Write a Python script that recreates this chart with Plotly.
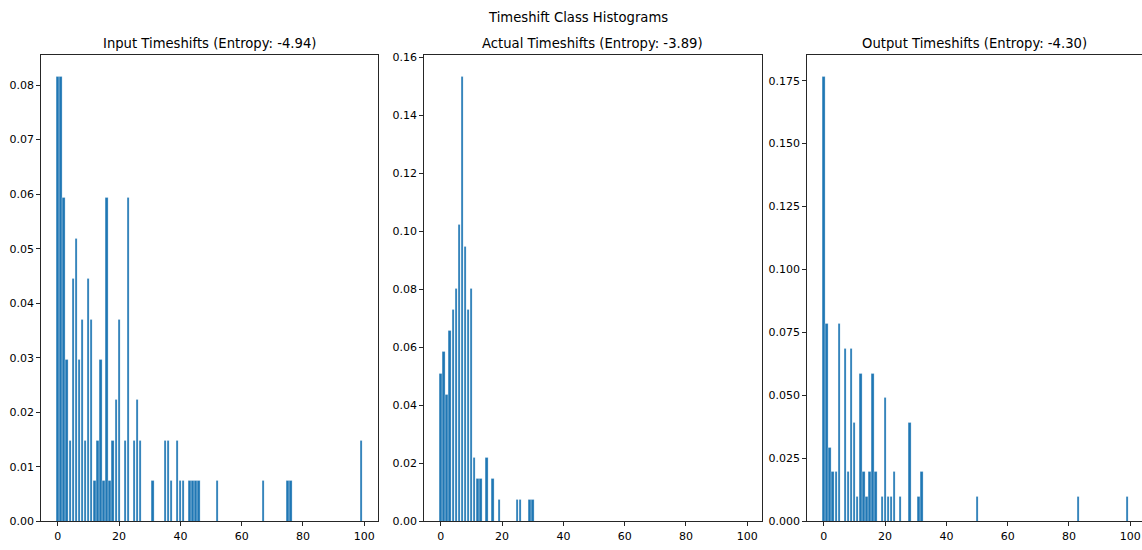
import plotly.graph_objects as go

# Timeshift classes observed in each set, with how many samples fell in each class
input_shifts = [0, 1, 2, 3, 4, 5, 6, 7, 8, 9, 10, 11, 12, 13, 14, 15, 16, 17, 18, 19, 20,
                22, 23, 25, 26, 27, 31, 35, 36, 37, 39, 40, 41, 43, 44, 45, 46, 52, 67, 75, 76, 99]
input_counts = [11, 11, 8, 4, 2, 6, 7, 4, 5, 2, 6, 5, 1, 2, 4, 1, 8, 1, 2, 3, 5,
                2, 8, 2, 3, 2, 1, 2, 2, 1, 2, 1, 1, 1, 1, 1, 1, 1, 1, 1, 1, 2]

actual_shifts = [0, 1, 2, 3, 4, 5, 6, 7, 8, 9, 10, 11, 12, 13, 15, 17, 19, 25, 26, 29, 30]
actual_counts = [7, 8, 6, 9, 10, 11, 14, 21, 13, 10, 11, 3, 2, 2, 3, 2, 1, 1, 1, 1, 1]

output_shifts = [0, 1, 2, 3, 4, 5, 7, 8, 9, 10, 11, 12, 13, 14, 15, 16, 17, 19, 20, 21,
                 22, 23, 25, 28, 31, 32, 50, 83, 99]
output_counts = [18, 8, 3, 2, 2, 8, 7, 2, 7, 4, 1, 6, 2, 1, 2, 6, 2, 1, 5, 1,
                 1, 2, 1, 4, 1, 2, 1, 1, 1]

titles = ["Input Timeshifts (Entropy: -4.94)",
          "Actual Timeshifts (Entropy: -3.89)",
          "Output Timeshifts (Entropy: -4.30)"]
suptitle = "Timeshift Class Histograms"

W, H = 1142, 550
FONT = "DejaVu Sans"
BLUE = "#1f77b4"
SPINE = "#262626"

# plot-area pixel boxes (left, right) and shared vertical extent
boxes = [(41.3, 377.7), (424.3, 761.7), (807.3, 1142.0)]
top_px, bottom_px = 52.7, 528.0
num_classes = 100
x_lo, x_hi = -0.4 - 0.05 * (num_classes - 1 + 0.8), num_classes - 1 + 0.4 + 0.05 * (num_classes - 1 + 0.8)
px_per_unit = (boxes[0][1] - boxes[0][0]) / (x_hi - x_lo)

series = [(input_shifts, input_counts), (actual_shifts, actual_counts), (output_shifts, output_counts)]
ytick_steps = [(0.01, ".2f", 8), (0.02, ".2f", 8), (0.025, ".3f", 7)]

fig = go.Figure()
annotations = []
for i, ((xs, cs), (step, fmt, n)) in enumerate(zip(series, ytick_steps)):
    total = sum(cs)
    probs = [c / total for c in cs]
    ax = "" if i == 0 else str(i + 1)
    fig.add_trace(go.Bar(x=xs, y=probs, width=[0.8] * len(xs),
                         marker=dict(color=BLUE, line=dict(width=0.4, color="rgba(255,255,255,0.7)")),
                         xaxis="x" + ax, yaxis="y" + ax, showlegend=False))
    left, right = boxes[i]
    xr_hi = x_lo + (right - left) / px_per_unit
    ymax = max(probs) * 1.05
    tickvals = [round(step * k, 4) for k in range(n + 1)]
    fig.layout["xaxis" + ax] = dict(
        domain=[left / W, right / W], range=[x_lo, xr_hi], anchor="y" + ax,
        tickvals=[0, 20, 40, 60, 80, 100], ticks="outside", ticklen=4, tickcolor=SPINE,
        showgrid=False, zeroline=False, showline=True, linecolor=SPINE, linewidth=1,
        mirror=True, tickfont=dict(family=FONT, size=11, color="black"))
    fig.layout["yaxis" + ax] = dict(
        domain=[1 - bottom_px / H, 1 - top_px / H], range=[0, ymax], anchor="x" + ax,
        tickvals=tickvals, tickformat=fmt, ticks="outside", ticklen=4, tickcolor=SPINE,
        showgrid=False, zeroline=False, showline=True, linecolor=SPINE, linewidth=1,
        mirror=(i < 2), tickfont=dict(family=FONT, size=11, color="black"))
    annotations.append(dict(text=titles[i], x=(left + min(right, left + 337)) / 2 / W, y=1 - 41 / H,
                            xref="paper", yref="paper", showarrow=False, xanchor="center", yanchor="middle",
                            font=dict(family=FONT, size=13.2, color="black")))

annotations.append(dict(text=suptitle, x=578 / W, y=1 - 15 / H, xref="paper", yref="paper",
                        showarrow=False, xanchor="center", yanchor="middle",
                        font=dict(family=FONT, size=13.2, color="black")))

fig.update_layout(width=W, height=H, margin=dict(l=0, r=0, t=0, b=0),
                  paper_bgcolor="white", plot_bgcolor="white",
                  annotations=annotations, bargap=0)

fig.write_html("out.html")
